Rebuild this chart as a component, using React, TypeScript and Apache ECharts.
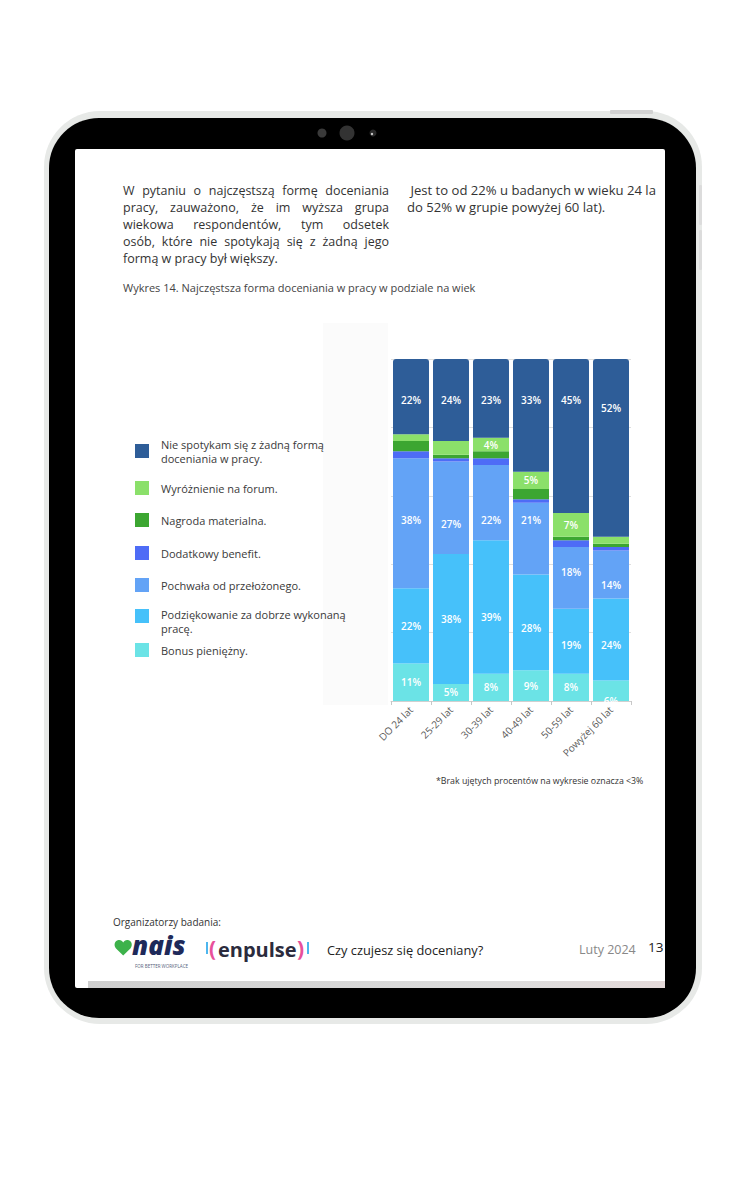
import React, { useEffect, useRef } from "react";
import * as echarts from "echarts";

// ---------- DATA ----------
const categories = ["DO 24 lat", "25-29 lat", "30-39 lat", "40-49 lat", "50-59 lat", "Powyżej 60 lat"];

const bonus = [11, 5, 8, 9, 8, 6];
const podziekowanie = [22, 38, 39, 28, 19, 24];
const pochwala = [38, 27, 22, 21, 18, 14];
const benefit = [2, 1, 2, 1, 2, 1];
const nagroda = [3, 1, 2, 3, 1, 1];
const wyroznienie = [2, 4, 4, 5, 7, 2];
const nieSpotykam = [22, 24, 23, 33, 45, 52];

const seriesNames = [
  "Bonus pieniężny.",
  "Podziękowanie za dobrze wykonaną pracę.",
  "Pochwała od przełożonego.",
  "Dodatkowy benefit.",
  "Nagroda materialna.",
  "Wyróżnienie na forum.",
  "Nie spotykam się z żadną formą doceniania w pracy.",
];
const seriesValues = [bonus, podziekowanie, pochwala, benefit, nagroda, wyroznienie, nieSpotykam];
const seriesColors = ["#6BE3E6", "#46C1FA", "#63A3F6", "#4E6CF6", "#3CA631", "#8BE06A", "#2E5D98"];

// labels that the source leaves out although value >= 3
const hiddenLabels: [number, number][] = [
  [5, 1],
  [4, 3],
  [4, 0],
];

// label style: vertical shift (px) of value labels as placed in the source
const labelShiftY: number[][] = [
  [0, 0, 0, 0, 0, 10],
  [0, 0, 10, 6, 4, 6],
  [-3, 16, 17, -19, -6, 11],
  [0, 0, 0, 0, 0, 0],
  [0, 0, 0, 0, 0, 0],
  [0, 0, 0, 0, 0, 0],
  [3, 0, 2, -15, -36, -40],
];

// legend (top to bottom), text lines
const legendLines: { series: number; lines: string[] }[] = [
  { series: 6, lines: ["Nie spotykam się z żadną formą", "doceniania w pracy."] },
  { series: 5, lines: ["Wyróżnienie na forum."] },
  { series: 4, lines: ["Nagroda materialna."] },
  { series: 3, lines: ["Dodatkowy benefit."] },
  { series: 2, lines: ["Pochwała od przełożonego."] },
  { series: 1, lines: ["Podziękowanie za dobrze wykonaną", "pracę."] },
  { series: 0, lines: ["Bonus pieniężny."] },
];

const paragraphLeft = [
  "W pytaniu o najczęstszą formę doceniania",
  "pracy, zauważono, że im wyższa grupa",
  "wiekowa respondentów, tym odsetek",
  "osób, które nie spotykają się z żadną jego",
  "formą w pracy był większy.",
];
const paragraphRight = [" Jest to od 22% u badanych w wieku 24 la", "do 52% w grupie powyżej 60 lat)."];
const captionText = "Wykres 14. Najczęstsza forma doceniania w pracy w podziale na wiek";
const noteText = "*Brak ujętych procentów na wykresie oznacza <3%";

const FONT = '"Open Sans", "Noto Sans", sans-serif';

function measure(text: string, font: string): number {
  const c = document.createElement("canvas");
  const ctx = c.getContext("2d")!;
  ctx.font = font;
  return ctx.measureText(text).width;
}

function justifiedLines(lines: string[], x: number, y0: number, lh: number, width: number, size: number, color: string) {
  const font = `${size}px "Open Sans"`;
  const els: any[] = [];
  lines.forEach((line, i) => {
    const y = y0 + i * lh;
    const last = i === lines.length - 1;
    if (last) {
      els.push({ type: "text", x, y, z: 5, style: { text: line, fill: color, fontSize: size, fontFamily: FONT, verticalAlign: "middle", textVerticalAlign: "middle" } });
      return;
    }
    const words = line.split(" ");
    const widths = words.map((w) => measure(w, font));
    const total = widths.reduce((a, b) => a + b, 0);
    const gap = (width - total) / (words.length - 1);
    let cx = x;
    words.forEach((w, k) => {
      els.push({ type: "text", x: cx, y, z: 5, style: { text: w, fill: color, fontSize: size, fontFamily: FONT, verticalAlign: "middle", textVerticalAlign: "middle" } });
      cx += widths[k] + gap;
    });
  });
  return els;
}

function txt(text: string, x: number, y: number, size: number, color: string, extra: any = {}) {
  return {
    type: "text",
    x,
    y,
    z: extra.z ?? 5,
    style: {
      text,
      fill: color,
      fontSize: size,
      fontFamily: extra.fontFamily ?? FONT,
      fontWeight: extra.fontWeight ?? "normal",
      fontStyle: extra.fontStyle ?? "normal",
      align: extra.align ?? "left",
      textAlign: extra.align ?? "left",
      verticalAlign: "middle",
      textVerticalAlign: "middle",
    },
  };
}

export default function App() {
  const ref = useRef<HTMLDivElement>(null);

  useEffect(() => {
    if (!ref.current) return;
    echarts.graphic.registerShape(
      "heart",
      echarts.graphic.extendPath(
        "M10 18 L2.2 10.2 C-0.6 7.4 0.4 2 4.8 1.2 C7.2 0.8 9 2 10 3.8 C11 2 12.8 0.8 15.2 1.2 C19.6 2 20.6 7.4 17.8 10.2 Z",
        {}
      ) as any
    );
    const chart = echarts.init(ref.current, undefined, { renderer: "svg" });

    const series = seriesValues.map((vals, si) => ({
      name: seriesNames[si],
      type: "bar",
      stack: "total",
      barWidth: 36,
      z: 4,
      itemStyle: { color: seriesColors[si], borderRadius: si === seriesValues.length - 1 ? [3, 3, 0, 0] : 0 },
      label: {
        show: true,
        position: "inside",
        color: "#ffffff",
        fontSize: 10,
        fontWeight: 600,
        fontFamily: FONT,
        formatter: "{c}%",
      },
      data: vals.map((v, ci) => {
        const hidden = v < 3 || hiddenLabels.some(([s, c]) => s === si && c === ci);
        return { value: v, label: { show: !hidden, offset: [0, labelShiftY[si][ci]] } };
      }),
    }));

    const graphics: any[] = [];
    // tablet frame
    graphics.push({ type: "rect", z: 0, shape: { x: 44, y: 111, width: 658, height: 913, r: 56 }, style: { fill: "#e7e9e7" } });
    graphics.push({ type: "rect", z: 0, shape: { x: 610, y: 110, width: 43, height: 4, r: 1 }, style: { fill: "#d2d2d2" } });
    graphics.push({ type: "rect", z: 0, shape: { x: 699, y: 185, width: 3, height: 40, r: 1 }, style: { fill: "#dcdcdc" } });
    graphics.push({ type: "rect", z: 0, shape: { x: 699, y: 230, width: 3, height: 40, r: 1 }, style: { fill: "#dcdcdc" } });
    graphics.push({ type: "rect", z: 0, shape: { x: 49, y: 118, width: 647, height: 900, r: 50 }, style: { fill: "#000000" } });
    graphics.push({ type: "rect", z: 0, shape: { x: 75, y: 149, width: 590, height: 839, r: 2 }, style: { fill: "#ffffff" } });
    // camera
    graphics.push({ type: "circle", z: 1, shape: { cx: 322, cy: 133, r: 4.5 }, style: { fill: "#3a3a3a" } });
    graphics.push({ type: "circle", z: 1, shape: { cx: 347, cy: 133, r: 7.5 }, style: { fill: "#333333" } });
    graphics.push({ type: "circle", z: 1, shape: { cx: 373, cy: 133, r: 3.5 }, style: { fill: "#2a2a2a" } });
    graphics.push({ type: "circle", z: 1, shape: { cx: 372, cy: 134, r: 1.2 }, style: { fill: "#cfcfcf" } });
    // faint panel behind chart
    graphics.push({ type: "rect", z: 1, shape: { x: 323, y: 323, width: 65, height: 382 }, style: { fill: "#fbfbfb" } });
    // bottom gray bar of screen
    graphics.push({
      type: "rect",
      z: 1,
      shape: { x: 88, y: 981, width: 577, height: 7 },
      style: {
        fill: new echarts.graphic.LinearGradient(0, 0, 1, 0, [
          { offset: 0, color: "#cfcfcf" },
          { offset: 0.7, color: "#dcdcdc" },
          { offset: 1, color: "#e4dada" },
        ]),
      },
    });

    // paragraphs
    graphics.push(...justifiedLines(paragraphLeft, 123, 190, 17, 266, 12.5, "#333333"));
    paragraphRight.forEach((l, i) => graphics.push(txt(l, 407, 190 + i * 17, 13.1, "#333333")));
    graphics.push(txt(captionText, 123, 287, 11, "#444444"));

    // legend
    const legendSquareY = [451, 488, 520, 553, 585, 616, 650];
    const legendTextY = [444, 488, 520, 553, 585, 614, 650];
    legendLines.forEach((item, i) => {
      graphics.push({
        type: "rect",
        z: 5,
        shape: { x: 135, y: legendSquareY[i] - 7, width: 14, height: 14 },
        style: { fill: seriesColors[item.series] },
      });
      item.lines.forEach((l, k) => graphics.push(txt(l, 161, legendTextY[i] + k * 14, 11, "#3a3a3a")));
    });

    graphics.push(txt(noteText, 436, 781, 8.8, "#333333"));

    // footer
    graphics.push(txt("Organizatorzy badania:", 113, 922, 10, "#333333"));
    graphics.push({ type: "heart", z: 5, x: 114, y: 939, scaleX: 0.92, scaleY: 0.92, style: { fill: "#3DB24B" } });
    graphics.push(txt("nais", 132, 945, 26, "#1E2A5A", { fontWeight: 900, fontStyle: "italic", fontFamily: '"Open Sans", sans-serif' }));
    graphics.push(txt("FOR BETTER WORKPLACE", 135, 966, 4.5, "#55607a"));
    graphics.push({ type: "rect", z: 5, shape: { x: 206, y: 942, width: 2, height: 12 }, style: { fill: "#4DB6EE" } });
    graphics.push(txt("(", 209, 948, 21, "#E8509A", { fontWeight: 700 }));
    graphics.push(txt("enpulse", 218, 949, 20, "#2B2B3D", { fontWeight: 700 }));
    graphics.push(txt(")", 297, 948, 21, "#E8509A", { fontWeight: 700 }));
    graphics.push({ type: "rect", z: 5, shape: { x: 307, y: 942, width: 2, height: 12 }, style: { fill: "#4DB6EE" } });
    graphics.push(txt("Czy czujesz się doceniany?", 327, 950, 12.8, "#222222"));
    graphics.push(txt("Luty 2024", 579, 949, 12.5, "#888888"));
    graphics.push(txt("13", 648, 947, 13.5, "#222222"));

    // right bezel strip over overflowing text
    graphics.push({ type: "rect", z: 10, shape: { x: 665, y: 170, width: 30, height: 800 }, style: { fill: "#000000" } });

    chart.setOption({
      animation: false,
      textStyle: { fontFamily: FONT },
      grid: { left: 391, top: 359, width: 240, height: 342, containLabel: false },
      xAxis: {
        type: "category",
        data: categories,
        z: 3,
        axisLine: { lineStyle: { color: "#d0d0d0" } },
        axisTick: { show: true, length: 4, lineStyle: { color: "#c8c8c8" } },
        axisLabel: { rotate: 45, color: "#5a5a5a", fontSize: 10, fontFamily: FONT, margin: 7 },
      },
      yAxis: {
        type: "value",
        min: 0,
        max: 100,
        interval: 20,
        z: 3,
        axisLabel: { show: false },
        axisLine: { show: false },
        axisTick: { show: false },
        splitLine: { lineStyle: { color: "#dedede" } },
      },
      series,
      graphic: { elements: graphics },
    });

    return () => chart.dispose();
  }, []);

  return <div ref={ref} style={{ position: "absolute", left: 0, top: 0, width: 752, height: 1200 }} />;
}
